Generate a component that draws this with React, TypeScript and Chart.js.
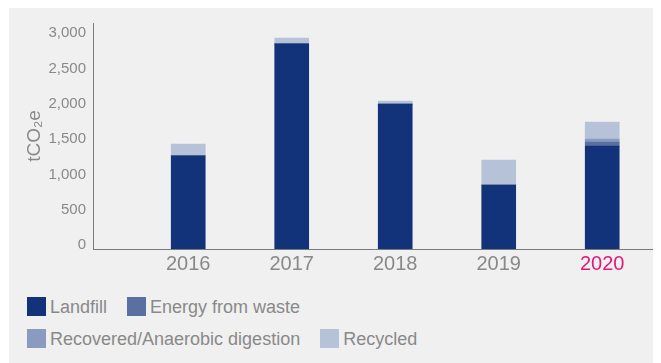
import React, { useEffect, useRef } from "react";
import { Chart, registerables } from "chart.js";

Chart.register(...registerables);

const years = [2016, 2017, 2018, 2019, 2020];
const landfill = [1320, 2905, 2052, 906, 1458];
const energyFromWaste = [0, 0, 0, 0, 56];
const recoveredAD = [0, 0, 0, 0, 43];
const recycled = [166, 81, 42, 353, 240];

const seriesLabels = ["Landfill", "Energy from waste", "Recovered/Anaerobic digestion", "Recycled"];
const seriesColors = ["#123379", "#5a70a0", "#8a9bc0", "#b6c2d8"];
const seriesValues = [landfill, energyFromWaste, recoveredAD, recycled];

const yTicks = [0, 500, 1000, 1500, 2000, 2500, 3000];
const yAxisTitle = "tCO₂e";
const highlightYear = 2020;

const FONT = '"Liberation Sans", Arial, Helvetica, sans-serif';
const GREY = "#898989";
const PINK = "#e2197c";

export default function App() {
  const ref = useRef<HTMLCanvasElement | null>(null);

  useEffect(() => {
    document.documentElement.style.overflow = "hidden";
    const canvas = ref.current;
    if (!canvas) return;
    const chart = new Chart(canvas, {
      type: "bar",
      data: {
        datasets: seriesLabels.map((label, i) => ({
          label,
          data: years.map((yr, j) => ({ x: yr, y: seriesValues[i][j] })),
          backgroundColor: seriesColors[i],
          borderWidth: 0,
          stack: "total",
          barThickness: 34,
        })),
      },
      options: {
        responsive: false,
        animation: false,
        layout: { padding: { top: 15, right: 6, bottom: 9, left: 0 } },
        plugins: { legend: { display: false }, tooltip: { enabled: false } },
        scales: {
          x: {
            type: "linear",
            min: 2015.08,
            max: 2020.51,
            offset: false,
            grid: { display: false, drawTicks: false, offset: false },
            border: { display: true, color: "#7a7a7a", width: 1 },
            afterBuildTicks: (s: any) => {
              s.ticks = years.map((v) => ({ value: v }));
            },
            afterFit: (s: any) => {
              s.height = 30;
            },
            ticks: {
              padding: 3,
              autoSkip: false,
              maxRotation: 0,
              font: { family: FONT, size: 20 },
              color: (ctx: any) => (ctx.tick && ctx.tick.value === highlightYear ? PINK : GREY),
              callback: (v: any) => String(v),
            },
          },
          y: {
            stacked: true,
            min: 0,
            max: 3200,
            grid: { display: false, drawTicks: false },
            border: { display: true, color: "#7a7a7a", width: 1 },
            afterBuildTicks: (s: any) => {
              s.ticks = yTicks.map((v) => ({ value: v }));
            },
            afterFit: (s: any) => {
              s.width = 84;
              s.paddingTop = 0;
              s.paddingBottom = 0;
            },
            ticks: {
              padding: 7,
              labelOffset: -4,
              font: { family: FONT, size: 15 },
              color: GREY,
              callback: (v: any) => Number(v).toLocaleString("en-US"),
            },
            title: {
              display: true,
              text: yAxisTitle,
              color: GREY,
              font: { family: FONT, size: 19 },
              padding: { top: 14, bottom: 0 },
            },
          },
        },
      },
    });
    return () => chart.destroy();
  }, []);

  return (
    <div
      style={{
        marginLeft: 1,
        width: 652,
        height: 355,
        background: "#f0f0f0",
        fontFamily: FONT,
        position: "relative",
      }}
    >
      <canvas ref={ref} width={652} height={280} style={{ display: "block" }} />
      <div
        style={{
          display: "flex",
          flexWrap: "wrap",
          width: 430,
          marginLeft: 18,
          paddingTop: 9,
          columnGap: 20,
          rowGap: 13,
        }}
      >
        {seriesLabels.map((label, i) => (
          <div key={label} style={{ display: "flex", alignItems: "center", height: 19 }}>
            <span
              style={{
                display: "inline-block",
                width: 19,
                height: 19,
                background: seriesColors[i],
                marginRight: 4,
              }}
            />
            <span style={{ fontSize: 18, lineHeight: "18px", color: GREY, whiteSpace: "nowrap" }}>{label}</span>
          </div>
        ))}
      </div>
    </div>
  );
}
